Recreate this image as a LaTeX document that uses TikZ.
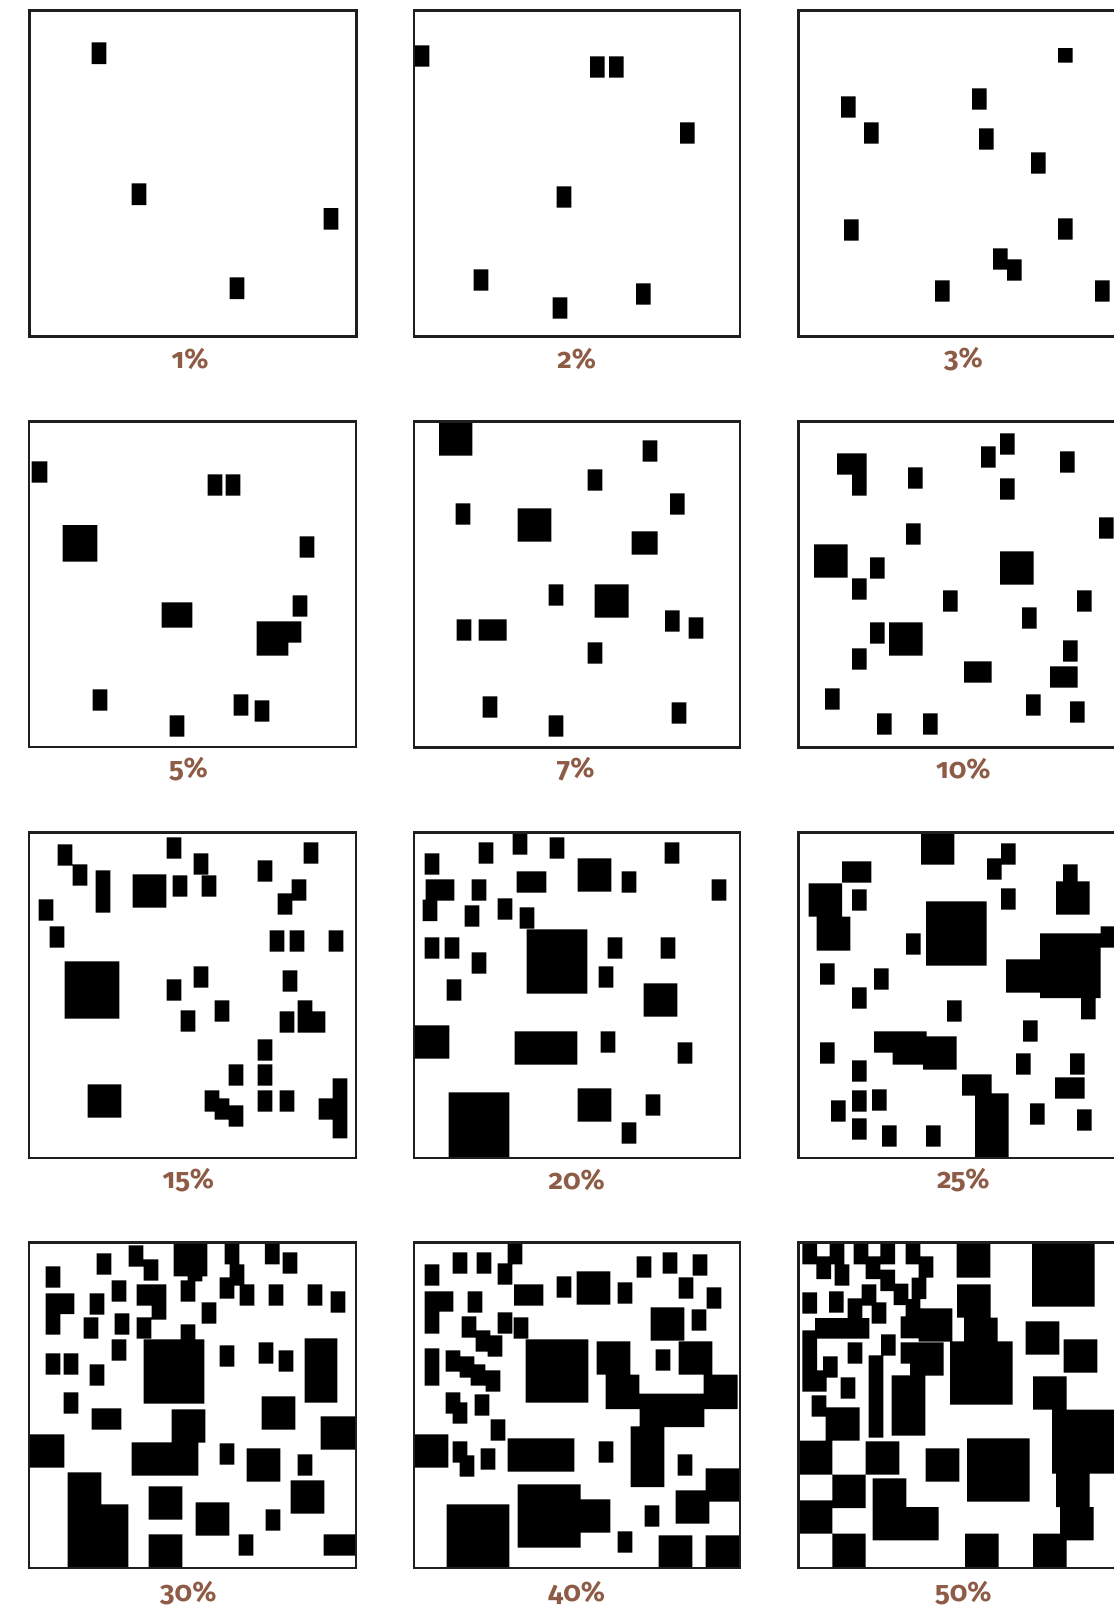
\documentclass[tikz,border=0pt]{standalone}
\usepackage{fontspec}
\setmainfont{Fira Sans}[Numbers=OldStyle]
\usepackage{xcolor}
\usepackage{tikz}
\definecolor{pctbrown}{RGB}{142,91,70}
\definecolor{framegray}{RGB}{30,30,30}

\begin{document}
\begin{tikzpicture}[
  x=0.02cm, y=-0.02cm,
  blk/.style={fill=black},
  frame/.style={draw=framegray, line width=1.6pt},
  pct/.style={font=\fontsize{16}{18}\selectfont\bfseries, text=pctbrown}
]
\useasboundingbox (0,0) rectangle (1113,1610);

% 1%
\begin{scope}[shift={(25,5)}, scale=1/3]
\fill[blk] (200,112) rectangle (244,177) (320,535) rectangle (364,600)
  (896,609) rectangle (940,674) (614,817) rectangle (658,882);
\draw[frame] (13,16) rectangle (994,994);
\node[pct] (p1) at (495,1062) {1\%};
\end{scope}

% 2%
\begin{scope}[shift={(410,5)}, scale=1/3]
\fill[blk] (12,121) rectangle (58,185) (540,154) rectangle (584,218)
  (597,154) rectangle (641,218) (810,352) rectangle (854,416)
  (440,544) rectangle (484,608) (191,793) rectangle (235,857)
  (678,835) rectangle (722,899) (428,877) rectangle (472,941);
\draw[frame] (12,16) rectangle (990,994);
\node[pct] (p2) at (500,1062) {2\%};
\end{scope}

% 3%
\begin{scope}[shift={(795,5)}, scale=1/3]
\fill[blk] (789,129) rectangle (833,173) (531,250) rectangle (575,314)
  (138,274) rectangle (182,338) (207,352) rectangle (251,416)
  (552,370) rectangle (596,434) (708,442) rectangle (752,506)
  (147,643) rectangle (191,707) (789,640) rectangle (833,704)
  (594,730) rectangle (638,794) (636,763) rectangle (680,827)
  (420,826) rectangle (464,890) (900,826) rectangle (944,890);
\draw[frame] (10,16) rectangle (990,994);
\node[pct] (p3) at (505,1062) {3\%};
\end{scope}

% 5%
\begin{scope}[shift={(25,415)}, scale=1/3]
\fill[blk] (20,139) rectangle (67,203) (548,178) rectangle (592,242)
  (602,178) rectangle (646,242) (113,330) rectangle (217,440)
  (824,364) rectangle (868,428) (803,541) rectangle (847,605)
  (410,562) rectangle (502,638) (695,619) rectangle (829,683)
  (695,619) rectangle (790,722) (203,823) rectangle (247,887)
  (626,838) rectangle (670,902) (689,856) rectangle (733,920)
  (434,901) rectangle (478,965);
\draw[frame] (12,20) rectangle (993,996);
\node[pct] (p5) at (490,1062) {5\%};
\end{scope}

% 7%
\begin{scope}[shift={(410,415)}, scale=1/3]
\fill[blk] (87,20) rectangle (187,122) (698,76) rectangle (742,140)
  (533,163) rectangle (577,227) (780,235) rectangle (824,299)
  (137,265) rectangle (181,329) (323,280) rectangle (424,380)
  (665,349) rectangle (743,419) (416,508) rectangle (460,572)
  (554,508) rectangle (656,608) (765,586) rectangle (809,650)
  (836,607) rectangle (880,671) (140,613) rectangle (184,677)
  (206,613) rectangle (290,677) (533,682) rectangle (577,746)
  (218,844) rectangle (262,908) (785,862) rectangle (829,926)
  (416,901) rectangle (460,965);
\draw[frame] (12,20) rectangle (990,997);
\node[pct] (p7) at (497,1062) {7\%};
\end{scope}

% 10%
\begin{scope}[shift={(795,415)}, scale=1/3]
\fill[blk] (126,115) rectangle (215,179) (171,115) rectangle (215,242)
  (558,94) rectangle (602,158) (615,55) rectangle (659,119)
  (795,109) rectangle (839,173) (339,157) rectangle (383,221)
  (615,190) rectangle (659,254) (912,307) rectangle (956,371)
  (333,325) rectangle (377,389) (57,388) rectangle (158,488)
  (225,427) rectangle (269,491) (615,409) rectangle (716,509)
  (171,490) rectangle (215,554) (444,526) rectangle (488,590)
  (846,526) rectangle (890,590) (681,577) rectangle (725,641)
  (225,622) rectangle (269,686) (282,622) rectangle (383,722)
  (804,676) rectangle (848,740) (171,700) rectangle (215,764)
  (507,739) rectangle (590,803) (765,754) rectangle (848,818)
  (90,820) rectangle (134,884) (693,838) rectangle (737,902)
  (825,859) rectangle (869,923) (246,895) rectangle (290,959)
  (384,895) rectangle (428,959);
\draw[frame] (10,20) rectangle (990,997);
\node[pct] (p10) at (505,1062) {10\%};
\end{scope}

% 15%
\begin{scope}[shift={(25,826)}, scale=1/3]
\fill[blk] (98,55) rectangle (142,119) (143,115) rectangle (187,179)
  (212,133) rectangle (256,260) (425,34) rectangle (469,98)
  (323,145) rectangle (424,245) (443,148) rectangle (487,212)
  (506,82) rectangle (550,146) (530,148) rectangle (574,212)
  (698,103) rectangle (742,167) (836,49) rectangle (880,113)
  (800,160) rectangle (844,224) (758,202) rectangle (802,266)
  (41,220) rectangle (85,284) (74,301) rectangle (118,365)
  (734,313) rectangle (778,377) (794,313) rectangle (838,377)
  (911,313) rectangle (955,377) (119,406) rectangle (283,578)
  (506,421) rectangle (550,485) (425,460) rectangle (469,524)
  (773,433) rectangle (817,497) (569,523) rectangle (613,587)
  (467,553) rectangle (511,617) (764,556) rectangle (808,620)
  (818,523) rectangle (862,620) (818,556) rectangle (901,620)
  (698,640) rectangle (742,704) (611,715) rectangle (655,779)
  (698,715) rectangle (742,779) (188,775) rectangle (289,875)
  (539,793) rectangle (583,857) (569,817) rectangle (613,881)
  (611,838) rectangle (655,902) (698,793) rectangle (742,857)
  (764,793) rectangle (808,857) (923,757) rectangle (967,937)
  (881,817) rectangle (923,881);
\draw[frame] (12,20) rectangle (993,996);
\node[pct] (p15) at (490,1062) {15\%};
\end{scope}

% 20%
\begin{scope}[shift={(410,826)}, scale=1/3]
\fill[blk] (44,82) rectangle (88,146) (206,49) rectangle (250,113)
  (308,20) rectangle (352,86) (419,34) rectangle (463,98)
  (764,49) rectangle (808,113) (47,160) rectangle (133,224)
  (38,221) rectangle (82,285) (185,160) rectangle (229,224)
  (320,136) rectangle (409,200) (503,97) rectangle (604,197)
  (635,136) rectangle (679,200) (905,160) rectangle (949,224)
  (164,238) rectangle (208,302) (263,217) rectangle (307,281)
  (329,244) rectangle (373,308) (350,310) rectangle (532,503)
  (44,334) rectangle (88,398) (104,334) rectangle (148,398)
  (593,334) rectangle (637,398) (752,334) rectangle (796,398)
  (185,379) rectangle (229,443) (566,421) rectangle (610,485)
  (110,460) rectangle (154,524) (701,472) rectangle (802,572)
  (14,598) rectangle (118,698) (314,616) rectangle (502,716)
  (572,616) rectangle (616,680) (803,649) rectangle (847,713)
  (116,799) rectangle (298,996) (503,787) rectangle (604,887)
  (707,805) rectangle (751,869) (635,889) rectangle (679,953);
\draw[frame] (12,20) rectangle (990,996);
\node[pct] (p20) at (500,1062) {20\%};
\end{scope}

% 25%
\begin{scope}[shift={(795,826)}, scale=1/3]
\fill[blk] (378,18) rectangle (478,116) (141,106) rectangle (229,170)
  (41,172) rectangle (141,272) (65,272) rectangle (166,374)
  (171,190) rectangle (215,254) (618,52) rectangle (662,116)
  (576,97) rectangle (620,161) (618,187) rectangle (662,251)
  (804,115) rectangle (848,166) (783,166) rectangle (884,266)
  (393,226) rectangle (575,419) (333,322) rectangle (377,386)
  (735,322) rectangle (917,516) (917,301) rectangle (960,365)
  (633,400) rectangle (735,500) (858,516) rectangle (902,580)
  (75,412) rectangle (119,476) (237,427) rectangle (281,491)
  (171,484) rectangle (215,548) (456,523) rectangle (500,587)
  (684,583) rectangle (728,647) (237,616) rectangle (395,680)
  (293,616) rectangle (395,716) (384,631) rectangle (485,731)
  (75,649) rectangle (119,713) (171,703) rectangle (215,767)
  (663,682) rectangle (707,746) (825,682) rectangle (869,746)
  (780,754) rectangle (869,818) (501,745) rectangle (590,809)
  (540,802) rectangle (641,996) (171,793) rectangle (215,857)
  (231,790) rectangle (275,854) (108,823) rectangle (152,887)
  (705,832) rectangle (749,896) (846,850) rectangle (890,914)
  (171,877) rectangle (215,941) (261,898) rectangle (305,962)
  (393,898) rectangle (437,962);
\draw[frame] (10,20) rectangle (990,996);
\node[pct] (p25) at (505,1062) {25\%};
\end{scope}

% 30%
\begin{scope}[shift={(25,1237)}, scale=1/3]
\fill[blk] (62,88) rectangle (106,152) (215,49) rectangle (259,113)
  (311,25) rectangle (355,89) (356,67) rectangle (400,131)
  (446,18) rectangle (547,118) (488,18) rectangle (532,133)
  (467,130) rectangle (511,194) (599,18) rectangle (643,82)
  (614,82) rectangle (658,146) (584,121) rectangle (628,185)
  (720,18) rectangle (764,82) (773,46) rectangle (817,110)
  (62,169) rectangle (148,231) (62,169) rectangle (106,293)
  (194,169) rectangle (238,233) (260,130) rectangle (304,194)
  (335,142) rectangle (424,206) (380,142) rectangle (424,248)
  (530,196) rectangle (574,260) (644,142) rectangle (688,206)
  (731,142) rectangle (775,206) (848,142) rectangle (892,206)
  (917,163) rectangle (961,227) (176,241) rectangle (220,305)
  (269,229) rectangle (313,293) (335,241) rectangle (379,305)
  (467,262) rectangle (511,310) (356,307) rectangle (538,500)
  (260,307) rectangle (304,371) (62,349) rectangle (106,413)
  (116,349) rectangle (160,413) (194,382) rectangle (238,446)
  (584,325) rectangle (628,389) (701,316) rectangle (745,380)
  (761,340) rectangle (805,404) (839,304) rectangle (937,497)
  (116,466) rectangle (160,530) (200,514) rectangle (289,578)
  (440,517) rectangle (541,617) (710,478) rectangle (811,578)
  (887,538) rectangle (990,638) (14,592) rectangle (118,692)
  (320,616) rectangle (520,716) (584,619) rectangle (628,683)
  (665,634) rectangle (766,734) (818,652) rectangle (862,716)
  (128,706) rectangle (229,990) (229,802) rectangle (310,990)
  (371,748) rectangle (472,848) (797,730) rectangle (898,830)
  (512,796) rectangle (613,896) (722,817) rectangle (766,881)
  (641,892) rectangle (685,956) (896,892) rectangle (990,956)
  (371,892) rectangle (472,990);
\draw[frame] (12,17) rectangle (993,993);
\node[pct] (p30) at (490,1067) {30\%};
\end{scope}

% 40%
\begin{scope}[shift={(410,1237)}, scale=1/3]
\fill[blk] (44,82) rectangle (88,146) (128,46) rectangle (172,110)
  (200,46) rectangle (244,110) (293,18) rectangle (337,82)
  (263,79) rectangle (307,143) (440,118) rectangle (484,182)
  (500,103) rectangle (601,203) (312,142) rectangle (400,206)
  (623,136) rectangle (667,200) (680,58) rectangle (724,122)
  (758,46) rectangle (802,110) (848,52) rectangle (892,116)
  (806,121) rectangle (850,185) (890,151) rectangle (934,215)
  (44,163) rectangle (130,224) (44,163) rectangle (88,290)
  (173,163) rectangle (217,227) (155,238) rectangle (199,302)
  (197,280) rectangle (241,344) (233,295) rectangle (277,359)
  (263,226) rectangle (307,290) (311,241) rectangle (355,305)
  (722,211) rectangle (823,311) (845,217) rectangle (889,281)
  (347,307) rectangle (535,497)
  (560,313) rectangle (661,413) (587,413) rectangle (688,516)
  (806,313) rectangle (907,413) (881,413) rectangle (983,516)
  (689,470) rectangle (983,516) (689,516) rectangle (883,570)
  (662,568) rectangle (763,750) (737,337) rectangle (781,401)
  (44,334) rectangle (88,446) (107,340) rectangle (151,404)
  (149,358) rectangle (193,422) (182,382) rectangle (226,446)
  (227,400) rectangle (271,464) (107,466) rectangle (151,530)
  (128,496) rectangle (172,560) (194,472) rectangle (238,536)
  (242,547) rectangle (286,611) (14,592) rectangle (115,692)
  (128,613) rectangle (172,677) (149,655) rectangle (193,719)
  (212,634) rectangle (256,698) (293,604) rectangle (493,704)
  (566,613) rectangle (610,677) (803,652) rectangle (847,716)
  (887,694) rectangle (988,794) (797,760) rectangle (898,860)
  (323,742) rectangle (512,932) (512,787) rectangle (601,887)
  (110,802) rectangle (298,993) (704,805) rectangle (748,869)
  (623,883) rectangle (667,947) (746,895) rectangle (847,993)
  (887,895) rectangle (988,993);
\draw[frame] (12,17) rectangle (990,993);
\node[pct] (p40) at (500,1067) {40\%};
\end{scope}

% 50%
\begin{scope}[shift={(795,1237)}, scale=1/3]
\fill[blk] (22,18) rectangle (66,82) (64,58) rectangle (108,126)
  (104,18) rectangle (148,82) (22,58) rectangle (148,82)
  (119,82) rectangle (163,146) (176,18) rectangle (220,82)
  (212,58) rectangle (256,126) (256,18) rectangle (300,82)
  (176,58) rectangle (300,82) (256,98) rectangle (300,162)
  (332,18) rectangle (376,82) (371,58) rectangle (415,122)
  (350,122) rectangle (394,186) (296,140) rectangle (340,204)
  (200,142) rectangle (244,206) (158,184) rectangle (202,248)
  (230,196) rectangle (274,260) (22,166) rectangle (66,230)
  (102,163) rectangle (146,227) (332,186) rectangle (376,250)
  (317,238) rectangle (472,304) (371,214) rectangle (472,314)
  (60,243) rectangle (223,305) (22,280) rectangle (66,400)
  (22,400) rectangle (95,464) (84,358) rectangle (128,422)
  (158,316) rectangle (202,380) (258,292) rectangle (302,356)
  (317,316) rectangle (446,380) (345,316) rectangle (446,416)
  (221,355) rectangle (265,602) (290,415) rectangle (391,596)
  (137,421) rectangle (181,485) (50,475) rectangle (94,539)
  (92,511) rectangle (194,611)
  (485,18) rectangle (586,122) (486,142) rectangle (587,242)
  (507,242) rectangle (608,314) (465,313) rectangle (653,503)
  (711,18) rectangle (899,209) (692,253) rectangle (793,353)
  (806,307) rectangle (907,407) (714,418) rectangle (815,518)
  (771,518) rectangle (960,710) (14,611) rectangle (112,713)
  (212,613) rectangle (313,713) (392,634) rectangle (493,734)
  (516,604) rectangle (704,794) (112,713) rectangle (212,813)
  (233,724) rectangle (334,810) (233,810) rectangle (431,910)
  (14,790) rectangle (112,890) (112,890) rectangle (212,993)
  (783,710) rectangle (884,810) (795,810) rectangle (896,910)
  (714,890) rectangle (815,993) (510,890) rectangle (611,993);
\draw[frame] (10,17) rectangle (990,993);
\node[pct] (p50) at (505,1067) {50\%};
\end{scope}

\end{tikzpicture}
\end{document}
